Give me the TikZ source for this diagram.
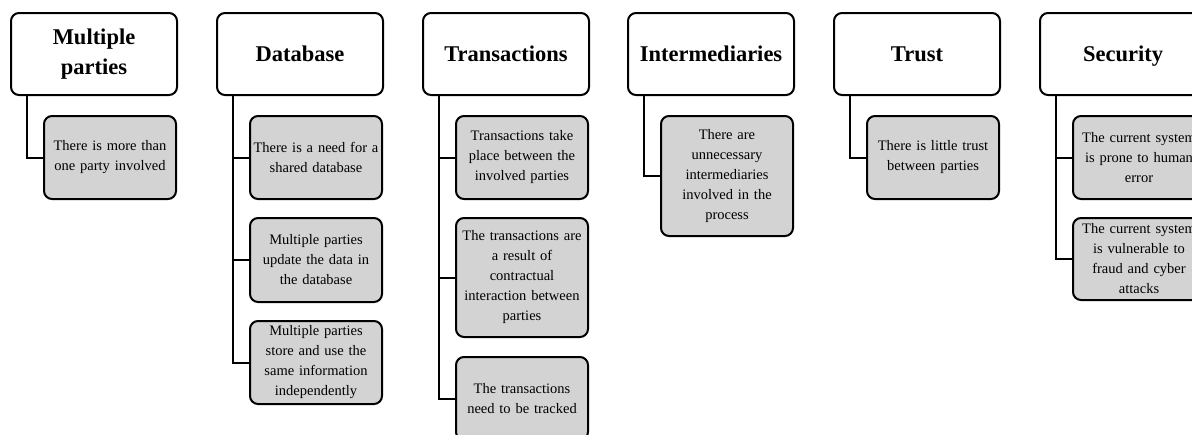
\documentclass[tikz,border=0pt]{standalone}
\usepackage{fontspec}
\setmainfont{Liberation Serif}
\definecolor{itemgray}{RGB}{211,211,211}
\tikzset{
  head/.style={draw, line width=2pt, rounded corners=8pt, fill=white,
    minimum width=166pt, minimum height=82pt, text width=155pt, align=center,
    font=\fontsize{22.5}{30}\selectfont\bfseries, inner sep=0pt},
  onehead/.style={head, text depth=0pt},
  item/.style={draw, line width=2pt, rounded corners=8pt, fill=itemgray,
    minimum width=132pt, text width=130pt, align=center,
    font=\fontsize{14.5}{20}\selectfont, inner sep=0pt},
  link/.style={line width=2pt}
}
\begin{document}
\begin{tikzpicture}[x=1pt,y=-1pt]
\useasboundingbox (0,0) rectangle (1192,434);
\clip (0,0) rectangle (1192,434);
% heads
\node[head] (hmp) at (94,54) {Multiple\\parties};
\node[onehead] (hdb) at (300,54) {Database};
\node[onehead] (htr) at (506,54) {Transactions};
\node[onehead] (hin) at (711,54) {Intermediaries};
\node[onehead] (htu) at (917,54) {Trust};
\node[onehead] (hse) at (1123,54) {Security};
% items
\node[item, minimum height=83pt] (mp1) at (110,157.5) {There is more than\\one party involved};
\node[item, minimum height=83pt] (db1) at (316,157.5) {There is a need for a\\shared database};
\node[item, minimum height=84pt] (db2) at (316,260) {Multiple parties\\update the data in\\the database};
\node[item, minimum height=83pt] (db3) at (316,362.5) {Multiple parties\\store and use the\\same information\\independently};
\node[item, minimum height=83pt] (tr1) at (522,157.5) {Transactions take\\place between the\\involved parties};
\node[item, minimum height=119pt] (tr2) at (522,277.5) {The transactions are\\a result of\\contractual\\interaction between\\parties};
\node[item, minimum height=83pt] (tr3) at (522,398.5) {The transactions\\need to be tracked};
\node[item, minimum height=120pt] (in1) at (727,176) {There are\\unnecessary\\intermediaries\\involved in the\\process};
\node[item, minimum height=83pt] (tu1) at (933,157.5) {There is little trust\\between parties};
\node[item, minimum height=83pt] (se1) at (1139,157.5) {The current system\\is prone to human\\error};
\node[item, minimum height=82pt] (se2) at (1139,259) {The current system\\is vulnerable to\\fraud and cyber\\attacks};
% connectors
\draw[link] (hmp.south west) ++(17,0) |- (mp1.west);
\draw[link] (hdb.south west) ++(17,0) |- (db1.west);
\draw[link] (hdb.south west) ++(17,0) |- (db2.west);
\draw[link] (hdb.south west) ++(17,0) |- (db3.west);
\draw[link] (htr.south west) ++(17,0) |- (tr1.west);
\draw[link] (htr.south west) ++(17,0) |- (tr2.west);
\draw[link] (htr.south west) ++(17,0) |- (tr3.west);
\draw[link] (hin.south west) ++(17,0) |- (in1.west);
\draw[link] (htu.south west) ++(17,0) |- (tu1.west);
\draw[link] (hse.south west) ++(17,0) |- (se1.west);
\draw[link] (hse.south west) ++(17,0) |- (se2.west);
\end{tikzpicture}
\end{document}
